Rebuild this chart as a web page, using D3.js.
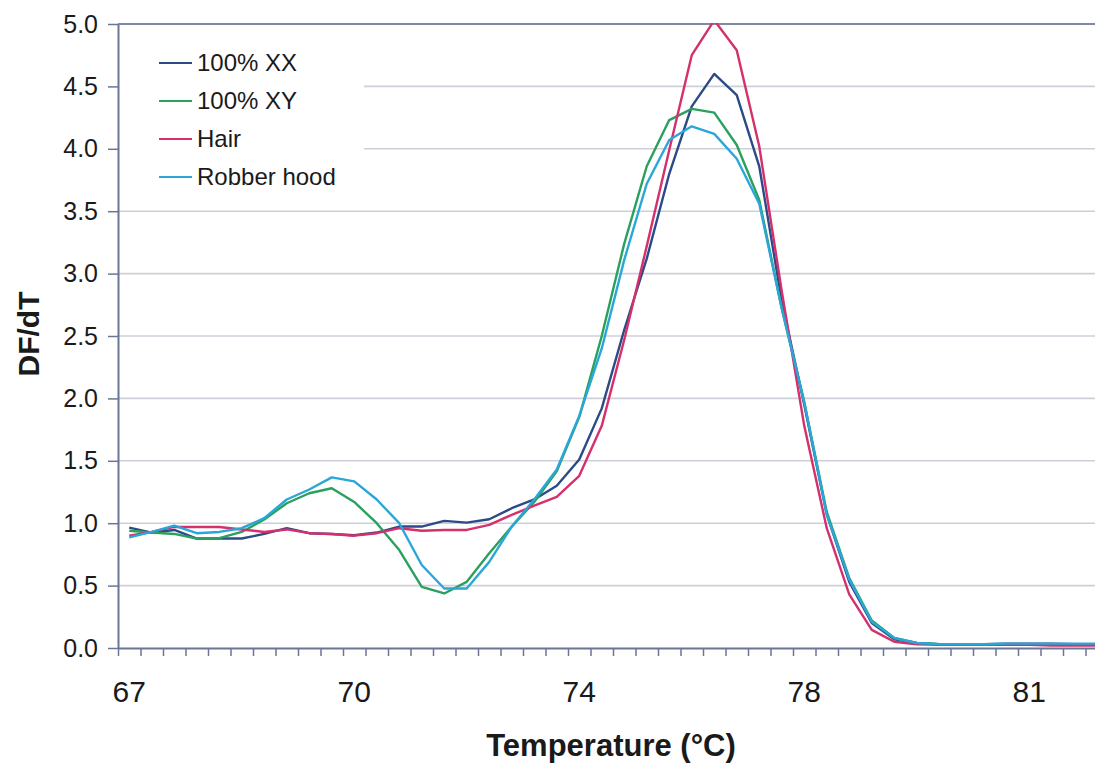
<!DOCTYPE html>
<html>
<head>
<meta charset="utf-8">
<script src="https://cdn.jsdelivr.net/npm/d3@7"></script>
<style>
  body { margin: 0; background: #fff; }
  svg { display: block; font-family: Arial, "Liberation Sans", sans-serif; }
</style>
</head>
<body>
<svg id="chart" width="1095" height="763"></svg>
<script>
// category labels on the x axis (one label every 10 readings)
var tickIndex = [0, 10, 20, 30, 40];
var tickLabels = ["67", "70", "74", "78", "81"];
var nPoints = 44;

// DF/dT readings, one per temperature step
var xx = [0.965, 0.925, 0.946, 0.877, 0.877, 0.877, 0.914, 0.96, 0.92, 0.914,
          0.903, 0.925, 0.973, 0.973, 1.019, 1.005, 1.032, 1.12, 1.19, 1.30,
          1.51, 1.92, 2.55, 3.12, 3.80, 4.34, 4.60, 4.43, 3.86, 2.78,
          1.95, 1.07, 0.53, 0.20, 0.07, 0.04, 0.03, 0.03, 0.03, 0.035,
          0.035, 0.035, 0.03, 0.03];
var xy = [0.94, 0.925, 0.914, 0.877, 0.88, 0.93, 1.03, 1.16, 1.24, 1.28,
          1.17, 1.0, 0.785, 0.49, 0.437, 0.53, 0.76, 0.973, 1.17, 1.415,
          1.85, 2.5, 3.24, 3.86, 4.23, 4.32, 4.29, 4.03, 3.59, 2.72,
          1.97, 1.09, 0.56, 0.22, 0.08, 0.04, 0.03, 0.03, 0.03, 0.03,
          0.03, 0.03, 0.03, 0.03];
var hair = [0.90, 0.93, 0.97, 0.97, 0.97, 0.95, 0.93, 0.95, 0.92, 0.914,
          0.90, 0.92, 0.96, 0.94, 0.946, 0.946, 0.987, 1.067, 1.14, 1.21,
          1.38, 1.78, 2.47, 3.22, 3.99, 4.75, 5.03, 4.79, 4.02, 2.86,
          1.78, 0.96, 0.43, 0.145, 0.05, 0.03, 0.025, 0.025, 0.025, 0.025,
          0.025, 0.02, 0.02, 0.02];
var hood = [0.887, 0.93, 0.98, 0.92, 0.93, 0.96, 1.04, 1.19, 1.27, 1.367,
          1.335, 1.19, 1.0, 0.665, 0.477, 0.477, 0.69, 0.973, 1.19, 1.43,
          1.86, 2.4, 3.11, 3.72, 4.07, 4.18, 4.12, 3.92, 3.56, 2.72,
          1.97, 1.07, 0.55, 0.21, 0.08, 0.04, 0.03, 0.03, 0.03, 0.035,
          0.035, 0.035, 0.035, 0.035];

var seriesNames = ["100% XX", "100% XY", "Hair", "Robber hood"];
var seriesColors = ["#2b4a86", "#2aa05e", "#d4306c", "#2ba6d8"];
var seriesData = [xx, xy, hair, hood];

function drawChart() {
  var svg = d3.select("#chart");

  // plot area
  var plotL = 118, plotT = 24, plotB = 648, plotR = 118 + nPoints * 22.5;

  var x = d3.scaleBand().domain(d3.range(nPoints)).range([plotL, plotR]);
  var xb = d3.scaleLinear().domain([0, nPoints]).range([plotL, plotR]);
  var y = d3.scaleLinear().domain([0, 5]).range([plotB, plotT]);

  // horizontal gridlines
  svg.append("g")
    .selectAll("line")
    .data(d3.range(0.5, 4.6, 0.5))
    .enter().append("line")
    .attr("x1", plotL).attr("x2", 1095)
    .attr("y1", function(d) { return y(d); })
    .attr("y2", function(d) { return y(d); })
    .style("stroke", "#cdd0d8")
    .style("stroke-width", 1.6);

  // top border of the plot
  svg.append("line")
    .attr("x1", plotL).attr("x2", 1095)
    .attr("y1", y(5)).attr("y2", y(5))
    .style("stroke", "#7f8aa6")
    .style("stroke-width", 2);

  // legend box hides the gridlines behind it
  svg.append("rect")
    .attr("x", plotL + 1).attr("y", 36)
    .attr("width", 245).attr("height", 162)
    .style("fill", "#fff");

  // lines
  svg.append("clipPath").attr("id", "clip")
    .append("rect")
    .attr("x", plotL).attr("y", plotT - 1)
    .attr("width", plotR - plotL).attr("height", plotB - plotT + 1);

  var line = d3.line()
    .x(function(d, i) { return x(i) + x.bandwidth() / 2; })
    .y(function(d) { return y(d); });

  svg.append("g")
    .attr("clip-path", "url(#clip)")
    .selectAll("path")
    .data(seriesData)
    .enter().append("path")
    .attr("d", line)
    .style("fill", "none")
    .style("stroke", function(d, i) { return seriesColors[i]; })
    .style("stroke-width", 2.4)
    .style("stroke-linejoin", "round");

  // y axis
  var yAxis = svg.append("g")
    .attr("transform", "translate(" + plotL + ",0)")
    .call(d3.axisLeft(y)
      .tickValues(d3.range(0, 5.01, 0.5))
      .tickFormat(d3.format(".1f"))
      .tickSize(10)
      .tickSizeOuter(0)
      .tickPadding(10));
  yAxis.select(".domain").style("stroke", "#6a7694").style("stroke-width", 2);
  yAxis.selectAll(".tick line").style("stroke", "#6a7694").style("stroke-width", 1.5);
  yAxis.selectAll(".tick text")
    .style("font-size", "25px")
    .style("fill", "#1a1a1a")
    .style("font-family", "Arial, 'Liberation Sans', sans-serif");

  // x axis: tick marks between categories
  var xAxis = svg.append("g")
    .attr("transform", "translate(0," + plotB + ")")
    .call(d3.axisBottom(xb)
      .tickValues(d3.range(0, nPoints + 1))
      .tickFormat("")
      .tickSize(8)
      .tickSizeOuter(0));
  xAxis.select(".domain").style("stroke", "#6a7694").style("stroke-width", 2);
  xAxis.selectAll(".tick line").style("stroke", "#6a7694").style("stroke-width", 1.5);

  // x labels centred on their category
  var xLabels = svg.append("g")
    .attr("transform", "translate(0," + plotB + ")")
    .call(d3.axisBottom(x)
      .tickValues(tickIndex)
      .tickFormat(function(d) { return tickLabels[tickIndex.indexOf(d)]; })
      .tickSize(0)
      .tickPadding(33));
  xLabels.select(".domain").remove();
  xLabels.selectAll(".tick text")
    .style("font-size", "30px")
    .style("fill", "#1a1a1a")
    .style("font-family", "Arial, 'Liberation Sans', sans-serif");

  // axis titles
  svg.append("text")
    .attr("x", 611).attr("y", 756)
    .attr("text-anchor", "middle")
    .style("font-size", "31px")
    .style("font-weight", "bold")
    .style("fill", "#1a1a1a")
    .text("Temperature (°C)");

  svg.append("text")
    .attr("transform", "translate(39,334) rotate(-90)")
    .attr("text-anchor", "middle")
    .style("font-size", "30px")
    .style("font-weight", "bold")
    .style("fill", "#1a1a1a")
    .text("DF/dT");

  // legend
  var legend = svg.append("g")
    .selectAll("g")
    .data(seriesNames)
    .enter().append("g")
    .attr("transform", function(d, i) { return "translate(0," + (63 + i * 38) + ")"; });

  legend.append("line")
    .attr("x1", 159).attr("x2", 192)
    .attr("y1", 0).attr("y2", 0)
    .style("stroke", function(d, i) { return seriesColors[i]; })
    .style("stroke-width", 2.2);

  legend.append("text")
    .attr("x", 197).attr("y", 0)
    .attr("dy", "0.35em")
    .style("font-size", "24px")
    .style("fill", "#1a1a1a")
    .text(function(d) { return d; });
}

drawChart();
</script>
</body>
</html>
